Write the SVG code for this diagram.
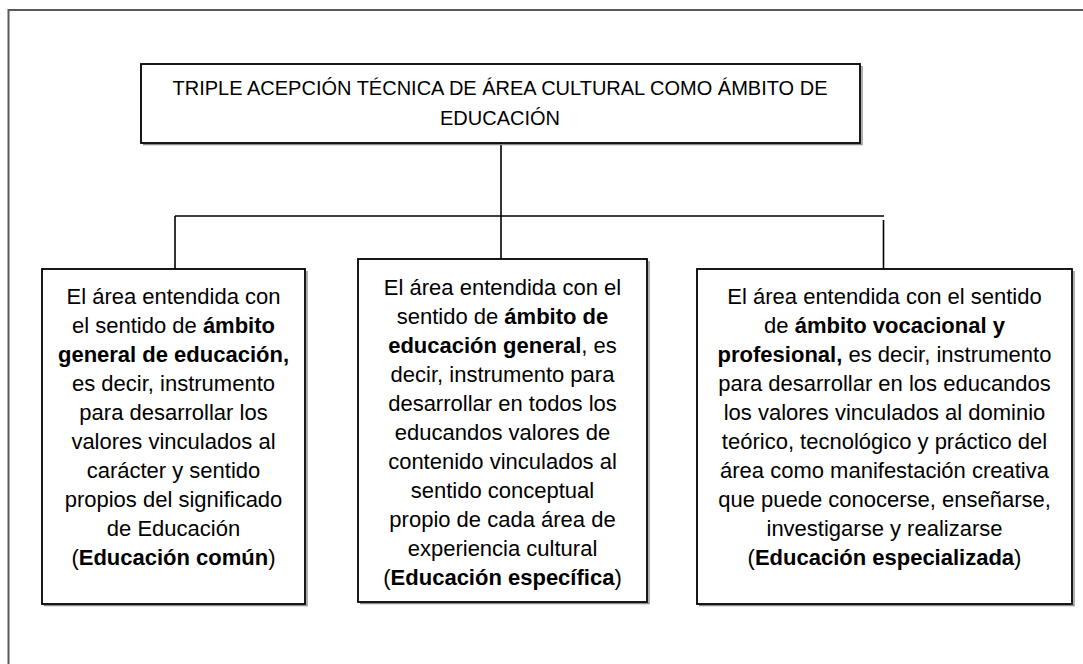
<svg xmlns="http://www.w3.org/2000/svg" width="1083" height="664" viewBox="0 0 1083 664">
<style>
.frame{fill:none;stroke:#595959;stroke-width:2}
.box{fill:#fff;stroke:#000;stroke-width:1.8}
.shadow{fill:none;stroke:#8c8c8c;stroke-width:1.4}
.conn{fill:none;stroke:#000;stroke-width:1.6}
.t{font-family:"Liberation Sans",Arial,sans-serif;font-size:22px;fill:#000;text-anchor:middle}
.title{font-family:"Liberation Sans",Arial,sans-serif;font-size:20px;fill:#000;text-anchor:middle}
.b{font-weight:bold}
</style>
<rect width="1083" height="664" fill="#fff"/>
<path class="frame" d="M8.5,664 V10 H1083"/>
<g id="connectors">
<line class="conn" x1="501" y1="143" x2="501" y2="259"/>
<line class="conn" x1="175" y1="216" x2="884" y2="216"/>
<line class="conn" x1="175" y1="216" x2="175" y2="269"/>
<line class="conn" x1="883.5" y1="220" x2="883.5" y2="269"/>
</g>
<g id="title">
<path class="shadow" d="M862,66 V144.5 H143"/>
<rect class="box" x="141" y="64" width="719" height="79"/>
<text class="title" x="500" y="95">TRIPLE ACEPCIÓN TÉCNICA DE ÁREA CULTURAL COMO ÁMBITO DE</text>
<text class="title" x="500" y="125">EDUCACIÓN</text>
</g>
<g id="box1">
<path class="shadow" d="M307,271 V605.5 H44"/>
<rect class="box" x="42" y="269" width="263" height="335"/>
<text class="t" x="173.5" y="304">El área entendida con</text>
<text class="t" x="173.5" y="333">el sentido de <tspan class="b">ámbito</tspan></text>
<text class="t" x="173.5" y="362"><tspan class="b">general de educación,</tspan></text>
<text class="t" x="173.5" y="391">es decir, instrumento</text>
<text class="t" x="173.5" y="420">para desarrollar los</text>
<text class="t" x="173.5" y="449">valores vinculados al</text>
<text class="t" x="173.5" y="478">carácter y sentido</text>
<text class="t" x="173.5" y="507">propios del significado</text>
<text class="t" x="173.5" y="536">de Educación</text>
<text class="t" x="173.5" y="565">(<tspan class="b">Educación común</tspan>)</text>
</g>
<g id="box2">
<path class="shadow" d="M649,261 V603.5 H360"/>
<rect class="box" x="358" y="259" width="289" height="343"/>
<text class="t" x="502.5" y="295">El área entendida con el</text>
<text class="t" x="502.5" y="324">sentido de <tspan class="b">ámbito de</tspan></text>
<text class="t" x="502.5" y="353"><tspan class="b">educación general</tspan>, es</text>
<text class="t" x="502.5" y="382">decir, instrumento para</text>
<text class="t" x="502.5" y="411">desarrollar en todos los</text>
<text class="t" x="502.5" y="440">educandos valores de</text>
<text class="t" x="502.5" y="469">contenido vinculados al</text>
<text class="t" x="502.5" y="498">sentido conceptual</text>
<text class="t" x="502.5" y="527">propio de cada área de</text>
<text class="t" x="502.5" y="556">experiencia cultural</text>
<text class="t" x="502.5" y="585">(<tspan class="b">Educación específica</tspan>)</text>
</g>
<g id="box3">
<path class="shadow" d="M1074,271 V605.5 H699"/>
<rect class="box" x="697" y="269" width="375" height="335"/>
<text class="t" x="884.5" y="304">El área entendida con el sentido</text>
<text class="t" x="884.5" y="333">de <tspan class="b">ámbito vocacional y</tspan></text>
<text class="t" x="884.5" y="362"><tspan class="b">profesional,</tspan> es decir, instrumento</text>
<text class="t" x="884.5" y="391">para desarrollar en los educandos</text>
<text class="t" x="884.5" y="420">los valores vinculados al dominio</text>
<text class="t" x="884.5" y="449">teórico, tecnológico y práctico del</text>
<text class="t" x="884.5" y="478">área como manifestación creativa</text>
<text class="t" x="884.5" y="507">que puede conocerse, enseñarse,</text>
<text class="t" x="884.5" y="536">investigarse y realizarse</text>
<text class="t" x="884.5" y="565">(<tspan class="b">Educación especializada</tspan>)</text>
</g>
</svg>
